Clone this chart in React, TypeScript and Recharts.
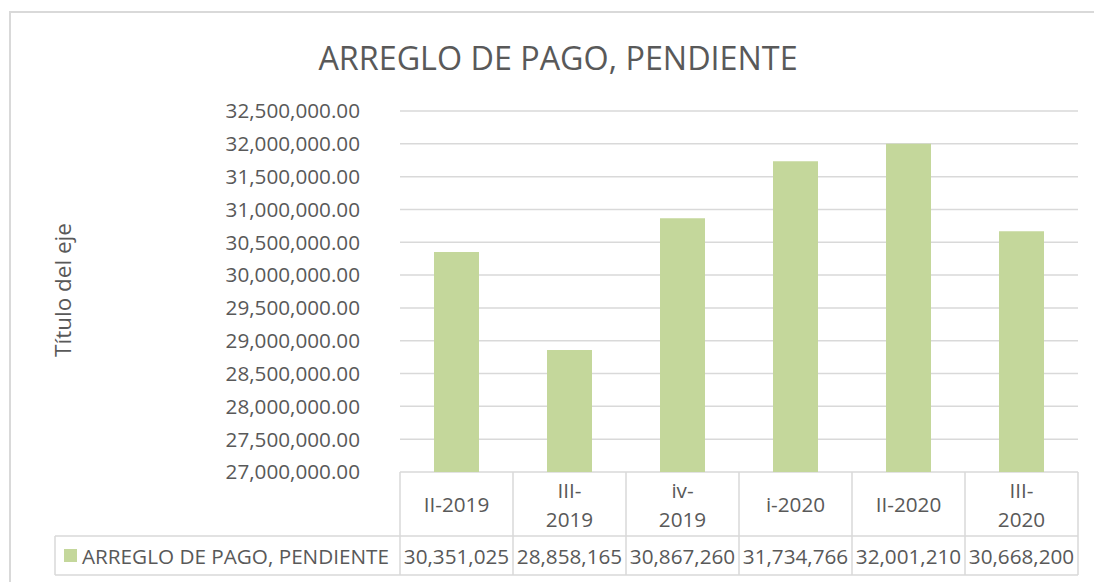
import { Bar, BarChart, CartesianGrid, XAxis, YAxis } from "recharts";

const categories = ["II-2019", "III-2019", "iv-2019", "i-2020", "II-2020", "III-2020"];
// how the category cells wrap in the data table
const categoryLines = [["II-2019"], ["III-", "2019"], ["iv-", "2019"], ["i-2020"], ["II-2020"], ["III-", "2020"]];
const pendiente = [30351025, 28858165, 30867260, 31734766, 32001210, 30668200];
const yTicks = [
  27000000, 27500000, 28000000, 28500000, 29000000, 29500000,
  30000000, 30500000, 31000000, 31500000, 32000000, 32500000
];
const seriesName = "ARREGLO DE PAGO, PENDIENTE";

const data = categories.map((cat, i) => ({ cat, value: pendiente[i] }));

const W = 1094;
const H = 582;
const PLOT_LEFT = 400;
const PLOT_RIGHT = 1078;
const PLOT_TOP = 111;
const PLOT_BOTTOM = 472;
const BAND = (PLOT_RIGHT - PLOT_LEFT) / categories.length;
const ROW_SPLIT = 536;
const TABLE_BOTTOM = 575;
const LEGEND_LEFT = 55;

const FONT = "'Open Sans', sans-serif";
const TEXT = "#595959";
const GRID = "#d9d9d9";
const BAR = "#c4d79b";

const fmtAxis = (v: number) =>
  v.toLocaleString("en-US", { minimumFractionDigits: 2, maximumFractionDigits: 2 });
const fmtCell = (v: number) => v.toLocaleString("en-US");

function TableTick(props: any) {
  const { x, payload } = props;
  const i = categories.indexOf(payload.value);
  const left = x - BAND / 2;
  const right = x + BAND / 2;
  const lines = categoryLines[i];
  const midCat = (PLOT_BOTTOM + ROW_SPLIT) / 2;
  const lineH = 29;
  return (
    <g fontFamily={FONT} fontSize={20.7} fill={TEXT}>
      {i === 0 && (
        <g>
          <line x1={LEGEND_LEFT} x2={left} y1={ROW_SPLIT} y2={ROW_SPLIT} stroke={GRID} strokeWidth={1.5} />
          <line x1={LEGEND_LEFT} x2={left} y1={TABLE_BOTTOM} y2={TABLE_BOTTOM} stroke={GRID} strokeWidth={1.5} />
          <line x1={LEGEND_LEFT} x2={LEGEND_LEFT} y1={ROW_SPLIT} y2={TABLE_BOTTOM} stroke={GRID} strokeWidth={1.5} />
          <rect x={64} y={549} width={13} height={13} fill={BAR} />
          <text x={82} y={(ROW_SPLIT + TABLE_BOTTOM) / 2} dominantBaseline="central" fill={TEXT}>
            {seriesName}
          </text>
        </g>
      )}
      <line x1={left} x2={left} y1={PLOT_BOTTOM} y2={TABLE_BOTTOM} stroke={GRID} strokeWidth={1.5} />
      {i === categories.length - 1 && (
        <line x1={right} x2={right} y1={PLOT_BOTTOM} y2={TABLE_BOTTOM} stroke={GRID} strokeWidth={1.5} />
      )}
      <line x1={left} x2={right} y1={ROW_SPLIT} y2={ROW_SPLIT} stroke={GRID} strokeWidth={1.5} />
      <line x1={left} x2={right} y1={TABLE_BOTTOM} y2={TABLE_BOTTOM} stroke={GRID} strokeWidth={1.5} />
      {lines.map((t, k) => (
        <text
          key={k}
          x={x}
          y={midCat + (k - (lines.length - 1) / 2) * lineH}
          textAnchor="middle"
          dominantBaseline="central"
          fill={TEXT}
        >
          {t}
        </text>
      ))}
      <text
        x={x}
        y={(ROW_SPLIT + TABLE_BOTTOM) / 2}
        textAnchor="middle"
        dominantBaseline="central"
        fill={TEXT}
      >
        {fmtCell(pendiente[i])}
      </text>
    </g>
  );
}

export default function App() {
  return (
    <div style={{ position: "absolute", left: 0, top: 0, width: W, height: H, background: "#fff", overflow: "hidden" }}>
      <div
        style={{
          position: "absolute",
          left: 9,
          top: 11,
          width: W,
          height: H,
          borderLeft: `2px solid ${GRID}`,
          borderTop: `2px solid ${GRID}`
        }}
      />
      <div
        style={{
          position: "absolute",
          left: 0,
          width: 1116,
          top: 36,
          textAlign: "center",
          fontFamily: FONT,
          fontSize: 32.3,
          color: TEXT,
          lineHeight: "42px"
        }}
      >
        {seriesName}
      </div>
      <BarChart
        width={W}
        height={H}
        data={data}
        margin={{ top: PLOT_TOP, right: W - PLOT_RIGHT, left: 0, bottom: 0 }}
        style={{ position: "absolute", left: 0, top: 0 }}
      >
        <CartesianGrid vertical={false} stroke={GRID} strokeWidth={1.5} />
        <XAxis
          dataKey="cat"
          axisLine={false}
          tickLine={false}
          interval={0}
          height={H - PLOT_BOTTOM}
          tick={<TableTick />}
        />
        <YAxis
          type="number"
          domain={[27000000, 32500000]}
          ticks={yTicks}
          interval={0}
          axisLine={false}
          tickLine={false}
          tickSize={6}
          tickMargin={34}
          width={PLOT_LEFT}
          tickFormatter={fmtAxis}
          tick={{ fill: TEXT, fontSize: 20.7, fontFamily: FONT }}
          label={{
            content: () => (
              <text
                x={62}
                y={290}
                transform="rotate(-90 62 290)"
                textAnchor="middle"
                dominantBaseline="central"
                fontFamily={FONT}
                fontSize={22.5}
                fill={TEXT}
              >
                Título del eje
              </text>
            )
          }}
        />
        <Bar dataKey="value" fill={BAR} barSize={45} isAnimationActive={false} />
      </BarChart>
    </div>
  );
}
